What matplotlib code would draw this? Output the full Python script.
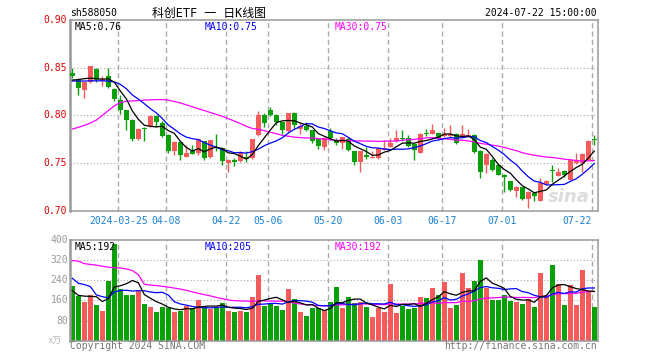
import matplotlib
matplotlib.use('Agg')
import matplotlib.pyplot as plt
import numpy as np

# ---------------- data ----------------
opens = [0.8446, 0.8383, 0.8263, 0.8347, 0.8481, 0.8365, 0.8411, 0.8278, 0.8158, 0.8053,
         0.7955, 0.7752, 0.7862, 0.7884, 0.7997, 0.7920, 0.7797, 0.7628, 0.7720, 0.7568,
         0.7628, 0.7604, 0.7726, 0.7568, 0.7700, 0.7657, 0.7499, 0.7534, 0.7516, 0.7558,
         0.7552, 0.7789, 0.8007, 0.8060, 0.8007, 0.7926, 0.7832, 0.8025, 0.7857, 0.7892,
         0.7842, 0.7752, 0.7667, 0.7839, 0.7744, 0.7709, 0.7755, 0.7628, 0.7509, 0.7586,
         0.7552, 0.7552, 0.7639, 0.7667, 0.7726, 0.7757, 0.7762, 0.7699, 0.7604, 0.7808,
         0.7807, 0.7815, 0.7779, 0.7779, 0.7807, 0.7779, 0.7779, 0.7797, 0.7628, 0.7481,
         0.7534, 0.7481, 0.7376, 0.7313, 0.7211, 0.7246, 0.7120, 0.7183, 0.7105, 0.7281,
         0.7423, 0.7368, 0.7421, 0.7323, 0.7499, 0.7499, 0.7534, 0.7746]
highs = [0.8500, 0.8394, 0.8350, 0.8520, 0.8492, 0.8411, 0.8492, 0.8290, 0.8218, 0.8060,
         0.7960, 0.7863, 0.7874, 0.8000, 0.8007, 0.7937, 0.7800, 0.7726, 0.7726, 0.7692,
         0.7692, 0.7762, 0.7735, 0.7744, 0.7807, 0.7670, 0.7545, 0.7555, 0.7621, 0.7628,
         0.7755, 0.8042, 0.8020, 0.8084, 0.8010, 0.7930, 0.8028, 0.8032, 0.7920, 0.7926,
         0.7850, 0.7760, 0.7770, 0.7870, 0.7765, 0.7775, 0.7768, 0.7630, 0.7625, 0.7667,
         0.7621, 0.7660, 0.7744, 0.7762, 0.7842, 0.7849, 0.7797, 0.7700, 0.7810, 0.7857,
         0.7913, 0.7820, 0.7870, 0.7902, 0.7810, 0.7902, 0.7857, 0.7807, 0.7639, 0.7600,
         0.7552, 0.7499, 0.7380, 0.7313, 0.7260, 0.7250, 0.7205, 0.7190, 0.7341, 0.7320,
         0.7481, 0.7446, 0.7425, 0.7540, 0.7604, 0.7600, 0.7744, 0.7797]
lows = [0.8390, 0.8211, 0.8183, 0.8340, 0.8355, 0.8305, 0.8290, 0.8155, 0.8018, 0.7849,
        0.7733, 0.7745, 0.7726, 0.7880, 0.7878, 0.7775, 0.7604, 0.7586, 0.7534, 0.7558,
        0.7590, 0.7586, 0.7534, 0.7552, 0.7621, 0.7481, 0.7411, 0.7470, 0.7510, 0.7509,
        0.7544, 0.7780, 0.7878, 0.7997, 0.7902, 0.7807, 0.7830, 0.7857, 0.7807, 0.7835,
        0.7709, 0.7646, 0.7632, 0.7744, 0.7692, 0.7650, 0.7630, 0.7481, 0.7404, 0.7544,
        0.7550, 0.7545, 0.7635, 0.7665, 0.7720, 0.7733, 0.7670, 0.7534, 0.7600, 0.7779,
        0.7805, 0.7755, 0.7775, 0.7775, 0.7699, 0.7770, 0.7775, 0.7610, 0.7341, 0.7394,
        0.7420, 0.7370, 0.7200, 0.7210, 0.7141, 0.7113, 0.7025, 0.7105, 0.7100, 0.7270,
        0.7305, 0.7360, 0.7358, 0.7320, 0.7495, 0.7411, 0.7530, 0.7692]
closes = [0.8411, 0.8284, 0.8347, 0.8516, 0.8368, 0.8386, 0.8299, 0.8173, 0.8053, 0.7955,
          0.7755, 0.7857, 0.7860, 0.7997, 0.7926, 0.7786, 0.7628, 0.7720, 0.7579, 0.7604,
          0.7597, 0.7752, 0.7552, 0.7737, 0.7697, 0.7516, 0.7534, 0.7510, 0.7604, 0.7541,
          0.7752, 0.8007, 0.7920, 0.8007, 0.7930, 0.7849, 0.8025, 0.7902, 0.7892, 0.7842,
          0.7726, 0.7681, 0.7762, 0.7765, 0.7713, 0.7768, 0.7639, 0.7509, 0.7621, 0.7568,
          0.7568, 0.7657, 0.7657, 0.7709, 0.7762, 0.7755, 0.7674, 0.7639, 0.7804, 0.7805,
          0.7842, 0.7762, 0.7807, 0.7807, 0.7709, 0.7804, 0.7797, 0.7615, 0.7411, 0.7594,
          0.7428, 0.7376, 0.7352, 0.7218, 0.7246, 0.7120, 0.7200, 0.7155, 0.7295, 0.7316,
          0.7420, 0.7411, 0.7376, 0.7534, 0.7523, 0.7594, 0.7733, 0.7744]
volumes = [216, 179, 153, 183, 143, 119, 239, 383, 207, 183,
           183, 196, 147, 135, 115, 135, 131, 115, 119, 137,
           131, 163, 131, 127, 135, 151, 119, 115, 119, 115,
           175, 259, 139, 151, 139, 123, 207, 167, 115, 99,
           131, 131, 123, 155, 215, 131, 175, 151, 155, 135,
           95, 131, 115, 227, 111, 139, 127, 131, 175, 171,
           211, 183, 235, 131, 143, 267, 211, 239, 319, 211,
           163, 163, 183, 159, 155, 147, 167, 135, 267, 179,
           299, 227, 143, 223, 143, 279, 199, 135]

# moving-average values at the start of the window (read from the chart,
# they depend on days before the first visible candle)
ma5_head = [0.8370, 0.8375, 0.8385, 0.8390]
ma10_head = [0.8360, 0.8360, 0.8360, 0.8362, 0.8362, 0.8362, 0.8360, 0.8350, 0.8325]
ma30_head = [0.7857, 0.7874, 0.7895, 0.7920, 0.7950, 0.8000, 0.8050, 0.8100, 0.8135, 0.8147,
             0.8152, 0.8155, 0.8160, 0.8163, 0.8165, 0.8165, 0.8160, 0.8145, 0.8130, 0.8110,
             0.8090, 0.8070, 0.8050, 0.8030, 0.8010, 0.7990, 0.7965, 0.7940, 0.7915]
vma5_head = [199, 180, 177, 176]
vma10_head = [248, 228, 223, 215, 182, 175, 170, 194, 199]
vma30_head = [318, 316, 306, 303, 300, 296, 292, 290, 289, 285,
              279, 262, 224, 221, 219, 216, 213, 209, 205, 200,
              194, 188, 183, 178, 172, 167, 162, 159, 158]

tick_idx = [8, 16, 26, 33, 43, 53, 62, 72, 87]
tick_labels = ['2024-03-25', '04-08', '04-22', '05-06', '05-20', '06-03', '06-17', '07-01', '07-22']
price_ticks = [0.70, 0.75, 0.80, 0.85, 0.90]
vol_ticks = [80, 160, 240, 320, 400]

symbol = 'sh588050'
title = '科创ETF 一 日K线图'
timestamp = '2024-07-22 15:00:00'
ma_price_txt = ['MA5:0.76', 'MA10:0.75', 'MA30:0.75']
ma_vol_txt = ['MA5:192', 'MA10:205', 'MA30:192']

# ---------------- helpers ----------------
def moving_avg(vals, n, head):
    vals = np.asarray(vals, dtype=float)
    out = np.empty(len(vals))
    for i in range(len(vals)):
        if i < len(head):
            out[i] = head[i]
        else:
            out[i] = vals[i - n + 1:i + 1].mean()
    return out

O = np.array(opens); H = np.array(highs); L = np.array(lows); C = np.array(closes)
V = np.array(volumes, dtype=float)
x = np.arange(len(C))
up = C >= O
RED = '#f65b5b'
GREEN = '#09a009'
cols = np.where(up, RED, GREEN)

W, Hpx = 660, 360
fig = plt.figure(figsize=(6.6, 3.6), dpi=100)
fig.patch.set_facecolor('white')

def fx(px):
    return px / W

def fy(py):
    return 1 - py / Hpx

ax = fig.add_axes([fx(70.3), fy(210.7), fx(597.7) - fx(70.3), fy(20) - fy(210.7)])
axv = fig.add_axes([fx(70.3), fy(340.7), fx(597.7) - fx(70.3), fy(240) - fy(340.7)])

xlim = (-0.34, 87.57)
MONO = 'DejaVu Sans Mono'

for a in (ax, axv):
    a.set_xlim(*xlim)
    a.set_xticks([])
    a.set_yticks([])
    for s in a.spines.values():
        s.set_color('#999999')
        s.set_linewidth(1.1)
    a.spines['left'].set_linewidth(1.8)
    for t in tick_idx:
        a.axvline(t - 0.33, color='#aaaaaa', lw=1.0, ls=(0, (3.6, 2.4)), zorder=0)

ax.set_ylim(0.70, 0.90)
axv.set_ylim(0, 400)
for p in price_ticks[1:-1]:
    ax.axhline(p, color='#aaaaaa', lw=0.8, ls=(0, (1, 2)), zorder=0)
for v in vol_ticks[:-1]:
    axv.axhline(v, color='#aaaaaa', lw=0.8, ls=(0, (1, 2)), zorder=0)

# candles
bw = 0.80
body_lo = np.minimum(O, C)
body_h = np.abs(C - O)
ax.vlines(x, L, H, colors=cols, lw=1.0, zorder=2)
ax.bar(x, np.maximum(body_h, 0.0006), bottom=body_lo, width=bw, color=cols, lw=0, zorder=3)

# moving averages of price
ma5 = moving_avg(C, 5, ma5_head)
ma10 = moving_avg(C, 10, ma10_head)
ma30 = moving_avg(C, 30, ma30_head)
ax.plot(x, ma30, color='#ff00ff', lw=0.9, zorder=4)
ax.plot(x, ma10, color='#0000ff', lw=0.9, zorder=4)
ax.plot(x, ma5, color='#000000', lw=0.9, zorder=4)

# volume
axv.bar(x, V, width=bw, color=cols, lw=0, zorder=2)
vma5 = moving_avg(V, 5, vma5_head)
vma10 = moving_avg(V, 10, vma10_head)
vma30 = moving_avg(V, 30, vma30_head)
axv.plot(x, vma30, color='#ff00ff', lw=0.9, zorder=4)
axv.plot(x, vma10, color='#0000ff', lw=0.9, zorder=4)
axv.plot(x, vma5, color='#000000', lw=0.9, zorder=4)

# watermark
ax.text(0.985, 0.07, 'sina', transform=ax.transAxes, ha='right', va='center',
        fontsize=13, fontstyle='italic', fontweight='bold', color='#dcdcdc',
        family='DejaVu Sans', zorder=1)

# texts
fs = 7
fig.text(fx(70), fy(13), symbol, ha='left', va='center', fontsize=fs, family=MONO)
fig.text(fx(152), fy(13), title, ha='left', va='center', fontsize=8.6,
         family=[MONO, 'Noto Sans CJK SC'])
fig.text(fx(597), fy(13), timestamp, ha='right', va='center', fontsize=fs, family=MONO)

ma_cols = ['#000000', '#0000ff', '#ff00ff']
for txt, px, c in zip(ma_price_txt, [75, 205, 335], ma_cols):
    fig.text(fx(px), fy(26.5), txt, ha='left', va='center', fontsize=fs, family=MONO, color=c)
for txt, px, c in zip(ma_vol_txt, [75, 205, 335], ma_cols):
    fig.text(fx(px), fy(246.5), txt, ha='left', va='center', fontsize=fs, family=MONO, color=c)

# price axis labels
for p in price_ticks:
    ypx = 210.7 - (p - 0.70) / 0.20 * 190.7
    fig.text(fx(66.5), fy(ypx), f'{p:.2f}', ha='right', va='center', fontsize=fs,
             family=MONO, color='#e00000')
# volume axis labels
for v in vol_ticks:
    ypx = 340.7 - v / 400 * 100.7
    fig.text(fx(68), fy(ypx), f'{v}', ha='right', va='center', fontsize=fs,
             family=MONO, color='#999999')
fig.text(fx(62), fy(341), 'x万', ha='right', va='center', fontsize=6.5,
         family=[MONO, 'Noto Sans CJK SC'], color='#bbbbbb')

# date labels
for k, (t, lab) in enumerate(zip(tick_idx, tick_labels)):
    xpx = 72.3 + 6 * (t - 0.33)
    ha = 'right' if k == len(tick_idx) - 1 else 'center'
    if ha == 'right':
        xpx -= 1
    fig.text(fx(xpx), fy(221.5), lab, ha=ha, va='center', fontsize=fs, family=MONO,
             color='#1a80d0')

fig.text(fx(70), fy(346), 'Copyright 2024 SINA.COM', ha='left', va='center', fontsize=fs,
         family=MONO, color='#777777')
fig.text(fx(597), fy(346), 'http://finance.sina.com.cn', ha='right', va='center', fontsize=fs,
         family=MONO, color='#777777')

fig.savefig('out.png', dpi=100, facecolor='white')
